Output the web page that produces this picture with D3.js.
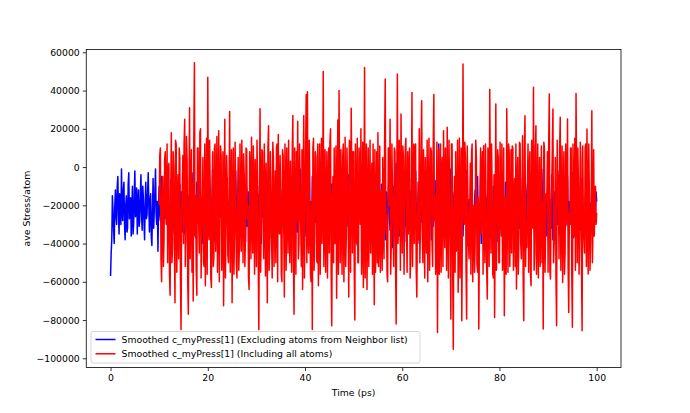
<!DOCTYPE html>
<html>
<head>
<meta charset="utf-8">
<script src="https://d3js.org/d3.v7.min.js"></script>
<style>
	body { margin: 0; background: #fff; }
	text { font-family: "DejaVu Sans", sans-serif; fill: #000; }
</style>
</head>
<body>
<svg id="chart" width="690" height="413"></svg>
<script>
// sampling step of both series, in ps
var timeStep = 0.125;
var redStart = 10;

// values in units of 1000 (ave Stress/atom)
var blueValues = [
	-57, -45, -38, -15, -22, -33, -40, -20, -12, -26, -30, -10, -5, -24, -35, -14, -18, -30, -1, -22,
	-28, -12, -8, -30, -38, -20, -15, -34, -32, -9, -3, -27, -25, -16, -36, -22, -10, -35, -30, -14,
	-2, -26, -20, -11, -35, -18, -12, -31, -28, -15, -4, -24, -33, -10, -16, -29, -38, -19, -8, -27,
	-25, -13, -3, -21, -34, -17, -14, -36, -41, -23, -6, -32, -22, -12, -1, -25, -30, -18, -44, -20,
	-10, -24, -28, -14, -5, -31, -36, -19, -18, -27, -2, -16, -30, -11, -12, -33, -40, -22, -20, -8,
	-6, -28, -33, -18, -15, -35, -26, -12, -1, -23, -38, -20, -22, -30, -9, -25, -31, -13, -17, -34,
	-4, -22, -35, -16, -20, -30, -11, -26, -29, -15, -42, -24, -14, -33, -3, -19, -27, -10, -19, -31,
	-37, -21, -8, -29, -24, -14, -2, -25, -33, -18, -16, -34, -40, -23, -10, -30, -28, -12, -5, -26,
	-21, -11, -36, -24, -13, -28, -30, -17, -1, -22, -25, -35, -39, -16, -7, -27, -18, -31, -32, -14,
	-12, -26, -3, -20, -29, -13, -41, -24, -15, -32, -23, -11, -6, -28, -34, -18, -19, -30, -9, -22,
	-38, -19, -14, -30, -26, -12, -2, -24, -31, -16, -20, -33, -8, -25, -35, -15, -17, -29, -27, -10,
	-4, -27, -39, -18, -11, -31, -24, -13, -33, -22, -7, -28, -21, -14, -30, -20, -1, -26, -16, -34,
	-36, -17, -10, -29, -28, -14, -19, -31, -40, -21, -5, -26, -25, -12, -13, -33, -32, -18, -22, -11,
	-3, -23, -37, -16, -15, -30, -29, -12, -9, -25, -34, -19, -18, -32, -42, -22, -6, -28, -26, -14,
	-12, -29, -31, -15, -20, -33, -2, -21, -38, -18, -14, -30, -27, -11, -8, -26, -35, -20, -17, -32,
	-23, -13, -4, -27, -39, -21, -11, -34, -30, -16, -19, -28, -1, -22, -33, -14, -25, -31, -7, -19,
	-36, -24, -16, -30, -28, -13, -10, -27, -41, -18, -21, -33, -5, -25, -32, -15, -14, -29, -26, -12,
	-3, -21, -37, -17, -18, -31, -30, -14, -8, -26, -24, -35, -40, -20, -12, -28, -34, -16, -2, -23,
	-20, -32, -35, -18, -9, -25, -27, -12, -15, -30, -38, -21, -6, -27, -29, -16, -22, -34, -13, -24,
	-1, -22, -33, -14, -17, -28, -39, -20, -10, -31, -25, -13, -4, -26, -31, -18, -19, -29, -36, -15,
	-7, -25, -28, -16, -14, -32, -41, -21, -11, -27, -23, -13, -2, -24, -34, -19, -18, -30, -30, -12,
	-5, -26, -37, -17, -21, -29, -12, -33, -32, -20, -26, -14, -8, -28, -40, -22, -15, -31, -3, -18,
	-29, -13, -19, -30, -35, -16, -9, -27, -24, -12, -1, -23, -38, -19, -13, -32, -27, -15, -6, -25,
	-33, -20, -16, -28, -42, -24, -10, -30, -22, -14, 2, -21, -31, -17, -18, -34, -36, -19, -8, -27,
	-25, -15, -4, -29, -39, -22, -14, -31, -30, -18, -20, -33, -6, -24, -13, -28, -34, -16, -11, -26,
	-27, -14, -2, -25, -36, -20, -17, -32, -40, -23, -9, -29, -23, -12, -31, -21, -5, -27, -19, -35,
	-35, -18, -12, -30, -28, -16, -3, -24, -38, -20, -15, -31, -26, -13, -7, -28, -33, -17, -21, -10,
	12, -22, -13, -30, -42, -19, -18, -33, -30, -14, -6, -27, -37, -21, -24, -12, -10, -29, -32, -16,
	-1, -24, -27, -13, -16, -31, -39, -21, -8, -26, -34, -17, -20, -30, -4, -22, -29, -15, -14, -33,
	-36, -19, -11, -28, -25, -14, -2, -23, -41, -20, -17, -32, -31, -15, -7, -26, -22, -34, -38, -18,
	-12, -25, -28, -15, -5, -30, -35, -19, -19, -27, -40, -22, -9, -31, -24, -13, -3, -26, -33, -17,
	-15, -28, -30, -14, -1, -24, -37, -20, -21, -32, -10, -23, -26, -12, -6, -29, -39, -19, -18, -31,
	-32, -16, -4, -26, -27, -13, -14, -30, -42, -21, -8, -28, -23, -15, -36, -20, -11, -33, -29, -18,
	-2, -22, -34, -15, -17, -29, -25, -12, -7, -27, -38, -19, -20, -32, -13, -24, -31, -16, -5, -26,
	-40, -21, -16, -31, -28, -14, -9, -25, -35, -18, -22, -33, -3, -20, -30, -13, -12, -28, -37, -17,
	-6, -23, -26, -13, -19, -30, -41, -22, -10, -27, -33, -16, -1, -25, -24, -32, -15, -20, -36, -14,
	-8, -26, -29, -17, -21, -32, -4, -23, -38, -19, -13, -28, -31, -14, -18, -30, -2, -21, -35, -12,
	-11, -24, -27, -15, -7, -29, -39, -20, -16, -31, -23, -13, -5, -26, -34, -18, -20, -28, -30, -11,
	-3, -25, -37, -16, -14, -30, -26, -12, -9, -27, -40, -21, -17, -33, -32, -15, -6, -24, -22, -34,
	-35, -18, -12, -29, -28, -14, -1, -24, -33, -20, -19, -31, -8, -22, -36, -16, -15, -27, -25, -13,
	-18
];

var redValues = [
	-20, 6, 10, -48, -60, -15, -5, -52, -38, 4, 8, -25, -30, 12, -50, -3, 2, -56, -67, -18,
	18, -50, -42, 8, 0, -36, -71, 14, 12, -55, -25, -4, -48, 10, 5, -58, -85, -22, -10, 6,
	-40, 12, 25, -52, -35, 16, 3, -60, -77, -16, 31, -48, -20, 9, -55, -8, -70, 14, 54.5, -36,
	-15, -54, -67, 10, 10, -28, -45, 18, 20, -58, -30, -18, 5, -50, -52, 12, -62, -20, 15, -56,
	47, -25, -38, 14, -10, -58, -63, -15, 8, -52, -48, 10, 12, -44, -28, 16, -55, -22, 19, -60,
	-22, 11, 6, -54, -40, 8, -72.5, -26, 25, -58, -30, 6, -8, -46, -50, -14, 29, -55, -20, 9,
	-71, -22, 10, -56, -35, 13, -15, -50, -58, -18, 5, -54, -42, 12, -25, -44, 14, -16, -50, 7,
	-5, -52, -38, 10, 9, -27, -20, -58, -64, 8, -2, -48, 15.6, -24, -45, 11, -18, -56, 4, -20,
	-52, 14, -12, -50, -85, -18, 30.5, -55, -30, 9, 8, -28, -48, 12, -20, -57, 2, -24, -71, 10,
	21.6, -54, -40, 8, -10, -38, -58, 13, 5, -52, -25, -2, -50, 10, 12, -60, 17, -26, -35, 6,
	-15, -56, -60, 9, 6, -30, -68, 12, -8, -54, 10, -18, -45, 14, -22, -50, 3, -26, -55, 8,
	27, -52, -77, 10, -18, -56, 8, -28, 24, -48, -40, 12, -12, -32, -52, 9, -64, -8, 27, -58,
	-30, 11, 38, -50, 39.4, -36, -45, 14, -10, -56, -60, -18, -85, 10, 15, -54, -25, 8, 5, -48,
	-50, 12, -62, -26, 12, -56, -20, 15, -40, -22, 50, -52, -30, 9, -55, -20, 8, -58, -15, 10,
	-45, 13, 20, -54, -83, -16, -5, -50, 10, -40, -38, 11, -68.6, -22, 24.6, -56, 40, -12, -50, 9,
	-20, -56, 5, 12, -60, -28, 15.6, -52, -35, 10, -10, -30, -68, 14, 12, -55, 30.7, -4, -45, 8,
	8, -54, -80, 12, -25, -40, 15, -50, -50, 10, -5, -30, 20, -56, -40, 13, -63, -28, 52, -58,
	-30, 12, -64, -24, 10, -52, -20, 14, -45, -18, 2, -56, 12, -26, -72, 9, -55, -32, 8, -50,
	18, -52, -35, 11, -55, -22, -12, -54, 5, -30, -48, 13, 46, -34, -25, -56, -60, 10, 10, -20,
	25, -56, -40, 12, -15, -32, -52, 10, 8, -50, -82, -12, 48.7, -40, -30, 14, -10, -54, 27.7, -22,
	-45, 11, 5, -56, -20, 9, 15, -30, -55, 8, -35, -4, 10, -58, -48, -24, 39, -52, -15, 12,
	-40, 10, 12, -54, -68, -26, -8, -38, 20, -50, -30, 12, 34.7, -36, -50, 9, -20, -58, 5, -28,
	-45, 14, -60, -22, 15, -54, -25, 10, 8, -40, -52, 11, 38, -28, -15, -56, -40, 13, -86.5, -24,
	10, -56, -30, 12, -55, -2, 5, -52, 19, -20, -42, 10, -10, -54, 20.8, -26, -58, 14, -20, -40,
	-79.5, 12, 12, -52, -95.3, -22, -5, -55, 8, -44, -40, 14, -65.5, -28, 15, -58, -25, 10, -80.4, -30,
	53.9, -18, -30, 13, 5, -54, -79.5, 11, -15, -40, -48, -24, 2, -56, 6.8, 12, -60, -26, -20, -55,
	-40, 14, 5, -50, -55, -16, -84.7, -36, -10, 10, -35, -6, 8, -56, 11.2, -28, -50, 12, -25, -54,
	-69, 10, 3, -52, 40.6, -10, -45, 12, -15, -56, -58, -4, -78.6, -30, 33, -54, -30, 9, 5, -50,
	-50, 13, -20, -36, 12, -54, -40, 10, -77.7, -32, -15, -56, 30.5, -16, -55, 12, 8, -52, -30, 9,
	-45, 11, 10, -54, -20, -6, -52, 12, -63.7, -14, 5, -56, -35, 13, 12, -40, -48, -22, 16.4, -58,
	-80.4, 10, 26.8, -52, -30, -42, -10, 12, -55, -4, 8, -56, -62, 14, -20, -32, 41.7, -54, -45, 9,
	21.6, -56, -35, 12, -58, -24, 5, -52, -25, 11, -50, -18, -84.7, 13, 10, -55, -30, -14, -15, 8,
	-55, 12, 38.2, -54, -58.5, -20, -10, 10, 30.4, -50, -40, -26, 5, -58, -83, 14, -20, -4, -48, 9,
	26, -54, -25, 11, -60.3, -22, 8, -56, -45, 12, -12, -30, 25.1, -52, -76, -24, -30, 10, 10, -56,
	-83.8, 12, -20, -36, 15, -54, 38.5, -6, -50, 10, -10, -56, -35, 13, 5, -52, -85.6, 11, -25, -38,
	-45, 10, 12, -52, 19.9, -24, -55.9, 12, -15, -54, -40, -18, 29.5, -50, -30, 9, -36, -20, -10, -30,
	-24
];

var xTicks = [0, 20, 40, 60, 80, 100];
var yTicks = [-100000, -80000, -60000, -40000, -20000, 0, 20000, 40000, 60000];
var seriesLabels = [
	"Smoothed c_myPress[1] (Excluding atoms from Neighbor list)",
	"Smoothed c_myPress[1] (Including all atoms)"
];
var seriesColors = ["#0000ff", "#ff0000"];

var svg = d3.select("#chart");

var plotLeft = 86.25, plotRight = 621, plotTop = 49.56, plotBottom = 367.57;

var x = d3.scaleLinear().domain([-5, 105]).range([plotLeft, plotRight]);
var y = d3.scaleLinear().domain([-104842, 61433]).range([plotBottom, plotTop]);

function toPoints(values, t0) {
	return values.map(function(v, i) {
		return { t: t0 + i * timeStep, v: v * 1000 };
	});
}

var series = [
	{ points: toPoints(blueValues, 0), color: seriesColors[0], label: seriesLabels[0] },
	{ points: toPoints(redValues, redStart), color: seriesColors[1], label: seriesLabels[1] }
];

svg.append("defs").append("clipPath").attr("id", "plotclip")
	.append("rect")
	.attr("x", plotLeft).attr("y", plotTop)
	.attr("width", plotRight - plotLeft).attr("height", plotBottom - plotTop);

var line = d3.line()
	.x(function(d) { return x(d.t); })
	.y(function(d) { return y(d.v); });

var plot = svg.append("g").attr("clip-path", "url(#plotclip)");

series.forEach(function(s) {
	plot.append("path")
		.datum(s.points)
		.attr("fill", "none")
		.attr("stroke", s.color)
		.attr("stroke-width", 1.5)
		.attr("stroke-linejoin", "round")
		.attr("d", line);
});

var fmt = function(d) { return d3.format("d")(d).replace("-", "\u2212"); };

var xAxis = svg.append("g")
	.attr("transform", "translate(0," + plotBottom + ")")
	.call(d3.axisBottom(x).tickValues(xTicks).tickSize(3.5).tickPadding(3).tickFormat(fmt));

var yAxis = svg.append("g")
	.attr("transform", "translate(" + plotLeft + ",0)")
	.call(d3.axisLeft(y).tickValues(yTicks).tickSize(3.5).tickPadding(3).tickFormat(fmt));

[xAxis, yAxis].forEach(function(ax) {
	ax.select(".domain").remove();
	ax.selectAll(".tick line").attr("stroke", "#000").attr("stroke-width", 0.8);
	ax.selectAll(".tick text")
		.style("font-family", "DejaVu Sans")
		.style("font-size", "9.3px")
		.attr("fill", "#000");
});

svg.append("rect")
	.attr("x", plotLeft).attr("y", plotTop)
	.attr("width", plotRight - plotLeft).attr("height", plotBottom - plotTop)
	.attr("fill", "none")
	.attr("stroke", "#000")
	.attr("stroke-width", 0.8);

svg.append("text")
	.attr("x", (plotLeft + plotRight) / 2)
	.attr("y", 396)
	.attr("text-anchor", "middle")
	.style("font-size", "9.3px")
	.text("Time (ps)");

svg.append("text")
	.attr("transform", "translate(30," + ((plotTop + plotBottom) / 2) + ") rotate(-90)")
	.attr("text-anchor", "middle")
	.style("font-size", "9.3px")
	.text("ave Stress/atom");

// legend, lower left
var legend = svg.append("g");
legend.append("rect")
	.attr("x", 91).attr("y", 331.5)
	.attr("width", 329).attr("height", 31.5)
	.attr("rx", 2)
	.attr("fill", "#fff")
	.attr("fill-opacity", 0.8)
	.attr("stroke", "#cccccc")
	.attr("stroke-width", 0.8);

series.forEach(function(s, i) {
	var ly = 339.5 + i * 14.3;
	legend.append("line")
		.attr("x1", 95.5).attr("x2", 115.5)
		.attr("y1", ly).attr("y2", ly)
		.attr("stroke", s.color)
		.attr("stroke-width", 1.5);
	legend.append("text")
		.attr("x", 121.5)
		.attr("y", ly + 3.4)
		.style("font-size", "9.3px")
		.text(s.label);
});
</script>
</body>
</html>
